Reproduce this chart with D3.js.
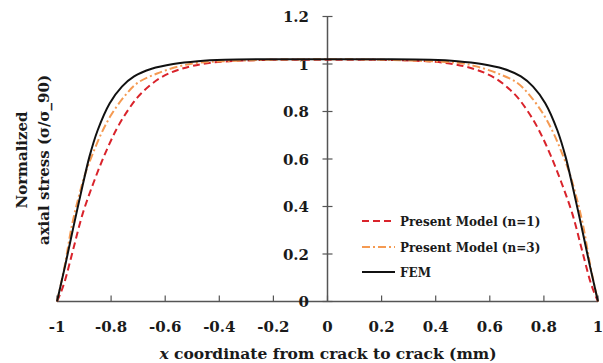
<!DOCTYPE html>
<html>
<head>
<meta charset="utf-8">
<script src="https://cdn.jsdelivr.net/npm/d3@7"></script>
<style>
  html, body { margin: 0; padding: 0; background: #fff; }
  svg text { font-family: "DejaVu Serif", serif; font-weight: bold; fill: #1a1a1a; }
</style>
</head>
<body>
<svg id="chart" width="603" height="363"></svg>
<script>
// ── Data ──────────────────────────────────────────────
const xTicks = [-1, -0.8, -0.6, -0.4, -0.2, 0, 0.2, 0.4, 0.6, 0.8, 1];
const yTicks = [0, 0.2, 0.4, 0.6, 0.8, 1, 1.2];

const femX = [-1, -0.99, -0.97, -0.94, -0.905, -0.88, -0.85, -0.805, -0.76, -0.715, -0.65, -0.57, -0.48, -0.38, -0.2, 0,
              0.2, 0.38, 0.48, 0.57, 0.65, 0.715, 0.76, 0.805, 0.85, 0.88, 0.905, 0.94, 0.97, 0.99, 1];
const femY = [0, 0.05, 0.15, 0.31, 0.49, 0.61, 0.72, 0.835, 0.905, 0.948, 0.98, 1.0, 1.012, 1.018, 1.02, 1.02,
              1.02, 1.018, 1.012, 1.0, 0.98, 0.948, 0.905, 0.835, 0.72, 0.61, 0.49, 0.31, 0.15, 0.05, 0];

const n3X = [-1, -0.99, -0.97, -0.945, -0.92, -0.895, -0.865, -0.835, -0.8, -0.75, -0.7, -0.63, -0.55, -0.48, -0.37, -0.2, 0,
             0.2, 0.37, 0.48, 0.55, 0.63, 0.7, 0.75, 0.8, 0.835, 0.865, 0.895, 0.92, 0.945, 0.97, 0.99, 1];
const n3Y = [0, 0.05, 0.16, 0.32, 0.44, 0.54, 0.63, 0.71, 0.785, 0.865, 0.922, 0.96, 0.99, 1.005, 1.012, 1.018, 1.02,
             1.018, 1.012, 1.005, 0.99, 0.96, 0.922, 0.865, 0.785, 0.71, 0.63, 0.54, 0.44, 0.32, 0.16, 0.05, 0];

const n1X = [-1, -0.985, -0.97, -0.94, -0.905, -0.865, -0.825, -0.78, -0.735, -0.69, -0.62, -0.545, -0.445, -0.3, 0,
             0.3, 0.445, 0.545, 0.62, 0.69, 0.735, 0.78, 0.825, 0.865, 0.905, 0.94, 0.97, 0.985, 1];
const n1Y = [0, 0.04, 0.09, 0.22, 0.37, 0.5, 0.615, 0.725, 0.81, 0.875, 0.94, 0.978, 1.003, 1.015, 1.018,
             1.015, 1.003, 0.978, 0.94, 0.875, 0.81, 0.725, 0.615, 0.5, 0.37, 0.22, 0.09, 0.04, 0];

const seriesNames = ['Present Model (n=1)', 'Present Model (n=3)', 'FEM'];

// ── Layout ────────────────────────────────────────────
const svg = d3.select('#chart');
const x = d3.scaleLinear().domain([-1, 1]).range([57, 598]);
const y = d3.scaleLinear().domain([0, 1.2]).range([301.5, 16.5]);

const axisColor = '#555';

// x axis line with upward ticks
svg.append('line')
  .attr('x1', x(-1)).attr('x2', x(1))
  .attr('y1', y(0)).attr('y2', y(0))
  .attr('stroke', axisColor).attr('stroke-width', 1.5);

svg.selectAll('.xtick')
  .data(xTicks)
  .join('line')
    .attr('class', 'xtick')
    .attr('x1', d => x(d)).attr('x2', d => x(d))
    .attr('y1', y(0)).attr('y2', y(0) - 6)
    .attr('stroke', axisColor).attr('stroke-width', 1.2);

svg.selectAll('.xlab')
  .data(xTicks)
  .join('text')
    .attr('class', 'xlab')
    .attr('x', d => x(d)).attr('y', 332)
    .attr('text-anchor', 'middle')
    .attr('font-size', 15)
    .text(d => String(d));

// y axis line at x = 0 with cross ticks
svg.append('line')
  .attr('x1', x(0)).attr('x2', x(0))
  .attr('y1', y(0)).attr('y2', y(1.2))
  .attr('stroke', axisColor).attr('stroke-width', 1.5);

svg.selectAll('.ytick')
  .data(yTicks)
  .join('line')
    .attr('class', 'ytick')
    .attr('x1', x(0) - 5).attr('x2', x(0) + 5)
    .attr('y1', d => y(d)).attr('y2', d => y(d))
    .attr('stroke', axisColor).attr('stroke-width', 1.2);

svg.selectAll('.ylab')
  .data(yTicks)
  .join('text')
    .attr('class', 'ylab')
    .attr('x', 309).attr('y', d => y(d) + 5.5)
    .attr('text-anchor', 'end')
    .attr('font-size', 15)
    .text(d => String(d));

// Axis titles
const xt = svg.append('text')
  .attr('x', 328).attr('y', 359)
  .attr('text-anchor', 'middle')
  .attr('font-size', 15.5);
xt.append('tspan').attr('font-style', 'italic').text('x');
xt.append('tspan').text(' coordinate from crack to crack (mm)');

svg.append('text')
  .attr('transform', 'translate(27,160) rotate(-90)')
  .attr('text-anchor', 'middle')
  .attr('font-size', 15)
  .text('Normalized');

svg.append('text')
  .attr('transform', 'translate(49,160) rotate(-90)')
  .attr('text-anchor', 'middle')
  .attr('font-size', 15)
  .text('axial stress (σ/σ_90)');

// ── Curves ────────────────────────────────────────────
const line = d3.line()
  .x(d => x(d[0]))
  .y(d => y(d[1]))
  .curve(d3.curveCatmullRom.alpha(0.5));

const styles = [
  { xs: n1X,  ys: n1Y,  color: '#d9232b', dash: '7 4',      width: 2 },
  { xs: n3X,  ys: n3Y,  color: '#f59a52', dash: '8 3 2 3',  width: 2 },
  { xs: femX, ys: femY, color: '#111',    dash: null,       width: 2 }
];

styles.forEach(s => {
  svg.append('path')
    .datum(s.xs.map((v, i) => [v, s.ys[i]]))
    .attr('d', line)
    .attr('fill', 'none')
    .attr('stroke', s.color)
    .attr('stroke-width', s.width)
    .attr('stroke-dasharray', s.dash);
});

// ── Legend ────────────────────────────────────────────
const legendY = [221, 247, 272];
styles.forEach((s, i) => {
  svg.append('line')
    .attr('x1', 362).attr('x2', 395)
    .attr('y1', legendY[i]).attr('y2', legendY[i])
    .attr('stroke', s.color)
    .attr('stroke-width', s.width)
    .attr('stroke-dasharray', s.dash);
  svg.append('text')
    .attr('x', 400).attr('y', legendY[i] + 4.5)
    .attr('font-size', 12)
    .text(seriesNames[i]);
});
</script>
</body>
</html>
